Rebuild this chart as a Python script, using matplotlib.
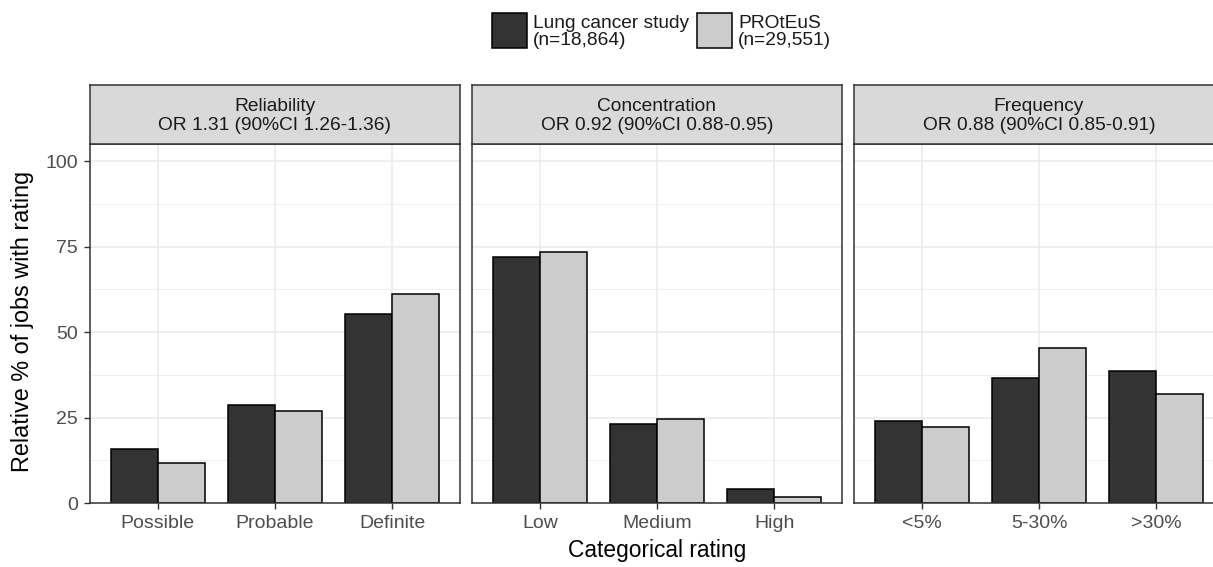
import matplotlib
matplotlib.use("Agg")
import matplotlib.pyplot as plt
from matplotlib.patches import Rectangle
import numpy as np

plt.rcParams["font.family"] = ["Liberation Sans", "DejaVu Sans"]

# Data: relative % of jobs with each rating, per study
facet_titles = [
    "Reliability\nOR 1.31 (90%CI 1.26-1.36)",
    "Concentration\nOR 0.92 (90%CI 0.88-0.95)",
    "Frequency\nOR 0.88 (90%CI 0.85-0.91)",
]
categories = [
    ["Possible", "Probable", "Definite"],
    ["Low", "Medium", "High"],
    ["<5%", "5-30%", ">30%"],
]
lung_cancer = [
    [15.7, 28.8, 55.3],
    [71.9, 23.2, 4.2],
    [24.1, 36.7, 38.5],
]
proteus = [
    [11.6, 26.9, 61.2],
    [73.3, 24.5, 1.9],
    [22.2, 45.4, 32.0],
]
series_labels = ["Lung cancer study\n(n=18,864)", "PROtEuS\n(n=29,551)"]
y_ticks = [0, 25, 50, 75, 100]

DARK = "#333333"
LIGHT = "#cccccc"
GRID = "#ebebeb"
BORDER = "#333333"
TICK_TXT = "#4d4d4d"

W, H = 1213, 567
fig = plt.figure(figsize=(W / 100, H / 100), dpi=100)


def px_rect(x0, y0, x1, y1):
    """Pixel box (top-left origin) -> figure fraction rect."""
    return [x0 / W, 1 - y1 / H, (x1 - x0) / W, (y1 - y0) / H]


panel_w, gap = 370, 12
panel_top, panel_bot = 144, 503
strip_top = 85
bar_w = 0.4

for k in range(3):
    x0 = 90 + k * (panel_w + gap)
    x1 = x0 + panel_w
    ax = fig.add_axes(px_rect(x0, panel_top, x1, panel_bot))
    ax.set_xlim(0.42, 3.58)
    ax.set_ylim(0, 105)
    pos = np.arange(1, 4)

    # grid
    for v in np.arange(12.5, 105, 25):
        ax.axhline(v, color=GRID, lw=0.6, zorder=0)
    for v in y_ticks:
        ax.axhline(v, color=GRID, lw=1.2, zorder=0)
    for p in pos:
        ax.axvline(p, color=GRID, lw=1.2, zorder=0)

    ax.bar(pos - bar_w / 2, lung_cancer[k], width=bar_w, color=DARK,
           edgecolor="black", linewidth=1.1, zorder=2)
    ax.bar(pos + bar_w / 2, proteus[k], width=bar_w, color=LIGHT,
           edgecolor="black", linewidth=1.1, zorder=2)

    ax.set_xticks(pos)
    ax.set_xticklabels(categories[k])
    ax.set_yticks(y_ticks)
    if k == 0:
        ax.set_yticklabels([str(v) for v in y_ticks])
    else:
        ax.tick_params(axis="y", left=False, labelleft=False)
    ax.tick_params(axis="both", colors=BORDER, labelcolor=TICK_TXT,
                   labelsize=14, length=4.5, width=1.0, pad=4)
    for s in ax.spines.values():
        s.set_color(BORDER)
        s.set_linewidth(1.1)
    ax.set_facecolor("white")

    # facet strip
    sax = fig.add_axes(px_rect(x0, strip_top, x1, panel_top))
    sax.set_facecolor("#d9d9d9")
    sax.set_xticks([])
    sax.set_yticks([])
    for s in sax.spines.values():
        s.set_color(BORDER)
        s.set_linewidth(1.1)
    sax.text(0.5, 0.47, facet_titles[k], ha="center", va="center",
             fontsize=13.8, color="#1a1a1a", linespacing=1.15,
             transform=sax.transAxes)

# axis titles
fig.text(22.5 / W, 1 - 321 / H, "Relative % of jobs with rating",
         rotation=90, ha="center", va="center", fontsize=16.8)
fig.text(657 / W, 1 - 551 / H, "Categorical rating",
         ha="center", va="center", fontsize=16.4)

# legend
for bx, fill, label in [(492, DARK, series_labels[0]),
                        (697, LIGHT, series_labels[1])]:
    r = px_rect(bx, 13, bx + 35, 48)
    fig.patches.append(Rectangle((r[0], r[1]), r[2], r[3], facecolor=fill,
                                 edgecolor="black", linewidth=1.1,
                                 transform=fig.transFigure, figure=fig))
    fig.text((bx + 41) / W, 1 - 32 / H, label, ha="left", va="center",
             fontsize=13.8, color="#1a1a1a", linespacing=1.0)

fig.savefig("out.png", dpi=100, facecolor="white")
